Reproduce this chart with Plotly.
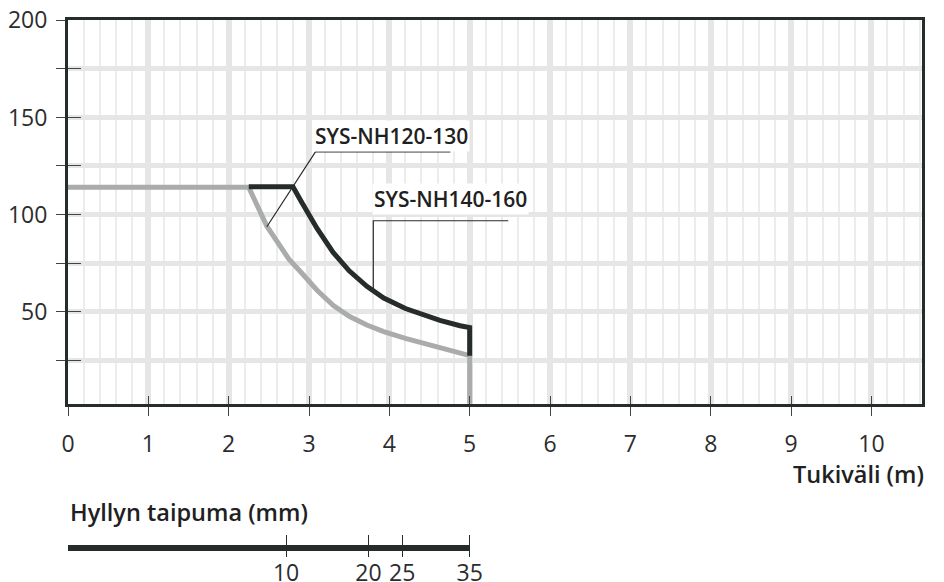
import plotly.graph_objects as go

# ---- data ----
nh120_x = [0, 2.25, 2.475, 2.6, 2.75, 2.9, 3.1, 3.3, 3.5, 3.72, 3.93, 4.2, 4.42, 4.63, 4.88, 5.0, 5.0]
nh120_y = [114, 114, 94, 86, 77, 70.3, 61, 53.2, 47.6, 43.1, 39.7, 36.2, 33.8, 31.8, 29.0, 27.3, 2.5]
nh140_x = [2.25, 2.8, 2.9, 3.0, 3.1, 3.3, 3.5, 3.72, 3.93, 4.2, 4.42, 4.63, 4.88, 5.0, 5.0]
nh140_y = [114.3, 114.3, 107, 99.8, 92.8, 80.5, 71, 63, 57, 51.6, 48.2, 45.5, 42.7, 41.8, 27.3]

x_ticks = list(range(0, 11))
y_ticks = [25, 50, 75, 100, 125, 150, 175, 200]
y_ticktext = ["", "50", "", "100", "", "150", "", "200"]

defl_mm = ["10", "20", "25", "35"]
defl_span = [2.715, 3.74, 4.16, 5.0]
defl_bar_x = [0, 5.0]
defl_bar_y = [0, 0]

label120 = "SYS-NH120-130"
label140 = "SYS-NH140-160"
leader120_x = [2.475, 3.08, 4.76]
leader120_y = [93.7, 132.3, 132.3]
leader140_x = [3.80, 3.80, 5.48]
leader140_y = [60.3, 96.8, 96.8]

X_RANGE = [0, 10.63]
Y_RANGE = [2.4, 200.2]

DARK = "#262b2c"
GRAY = "#a9abac"
GRID = "#e6e6e6"
TXT = "#2b2d2e"
FONT = "Open Sans"

fig = go.Figure()

fig.add_trace(go.Scatter(x=nh120_x, y=nh120_y, mode="lines",
                         line=dict(color=GRAY, width=5), hoverinfo="skip"))
fig.add_trace(go.Scatter(x=nh140_x, y=nh140_y, mode="lines",
                         line=dict(color=DARK, width=5), hoverinfo="skip"))
fig.add_trace(go.Scatter(x=leader120_x, y=leader120_y, mode="lines",
                         line=dict(color=DARK, width=1.2), hoverinfo="skip"))
fig.add_trace(go.Scatter(x=leader140_x, y=leader140_y, mode="lines",
                         line=dict(color=DARK, width=1.2), hoverinfo="skip"))

# deflection scale bar
fig.add_trace(go.Scatter(x=defl_bar_x, y=defl_bar_y, mode="lines", xaxis="x2", yaxis="y2",
                         line=dict(color=DARK, width=6), hoverinfo="skip"))
# dummy traces for overlay tick axes
fig.add_trace(go.Scatter(x=[], y=[], xaxis="x3", yaxis="y", showlegend=False))
fig.add_trace(go.Scatter(x=[], y=[], xaxis="x", yaxis="y3", showlegend=False))

# page has an 8px body offset, compensated in size/margins
# paper area spans page y 20..572 (552 px)
MAIN_BOTTOM = (572 - 404) / 552.0

fig.update_layout(
    width=936, height=574,
    margin=dict(l=60, r=22, t=12, b=10),
    paper_bgcolor="white", plot_bgcolor="white",
    showlegend=False,
    font=dict(family=FONT, color=TXT, size=23),
    xaxis=dict(range=X_RANGE, domain=[0, 1], anchor="y", automargin=False,
               tickvals=x_ticks, ticks="outside", ticklen=9, tickwidth=1.3, tickcolor="#444",
               showgrid=True, gridcolor=GRID, gridwidth=6,
               minor=dict(dtick=0.2, showgrid=True, gridcolor="#ececec", gridwidth=2, ticks=""),
               showline=True, linecolor=DARK, linewidth=3, mirror=True,
               ticklabelstandoff=8, zeroline=False, ticklabeloverflow="allow",
               tickfont=dict(size=23, color=TXT)),
    yaxis=dict(range=Y_RANGE, domain=[MAIN_BOTTOM, 1], anchor="x", automargin=False,
               tickvals=y_ticks, ticktext=y_ticktext, ticks="outside", ticklen=9,
               tickwidth=1.3, tickcolor="#444",
               showgrid=True, gridcolor=GRID, gridwidth=5,
               showline=True, linecolor=DARK, linewidth=3, mirror=True,
               zeroline=False, ticklabelstandoff=4, ticklabeloverflow="allow",
               tickfont=dict(size=23, color=TXT)),
    xaxis3=dict(range=X_RANGE, overlaying="x", anchor="y", side="bottom", automargin=False,
                tickvals=x_ticks, ticks="inside", ticklen=8, tickwidth=1.3, tickcolor="#444",
                showticklabels=False, showgrid=False, showline=False, zeroline=False),
    yaxis3=dict(range=Y_RANGE, overlaying="y", anchor="x", side="left", automargin=False,
                tickvals=y_ticks[:-1], ticks="inside", ticklen=13, tickwidth=1.3, tickcolor="#444",
                showticklabels=False, showgrid=False, showline=False, zeroline=False),
    xaxis2=dict(range=X_RANGE, domain=[0, 1], anchor="y2", automargin=False,
                tickvals=defl_span, ticktext=defl_mm, ticks="inside", ticklen=22,
                tickwidth=1.2, tickcolor=DARK, showgrid=False, showline=False, zeroline=False,
                ticklabelstandoff=0, ticklabeloverflow="allow",
                tickfont=dict(size=23, color=TXT)),
    yaxis2=dict(range=[-0.5, 1], domain=[(572 - 557) / 552.0, (572 - 530) / 552.0], anchor="x2",
                automargin=False,
                showticklabels=False, showgrid=False, showline=False, zeroline=False, ticks=""),
)

LBL = dict(size=21, color="#1e2122", family=FONT, weight=600)
fig.add_annotation(x=4.03, y=140.5, xref="x", yref="y", text=label120,
                   showarrow=False, bgcolor="white", font=LBL)
fig.add_annotation(x=4.76, y=108, xref="x", yref="y", text=label140,
                   showarrow=False, bgcolor="white", font=LBL)
TTL = dict(size=23.5, color="#1e2122", family=FONT, weight=600)
fig.add_annotation(x=1, y=(572 - 474) / 552.0, xref="paper", yref="paper", xshift=4,
                   text="Tukiväli (m)", showarrow=False, xanchor="right", yanchor="middle", font=TTL)
fig.add_annotation(x=0, y=(572 - 512) / 552.0, xref="paper", yref="paper",
                   text="Hyllyn taipuma (mm)", showarrow=False, xanchor="left", yanchor="middle", font=TTL)

fig.write_html("out.html")
